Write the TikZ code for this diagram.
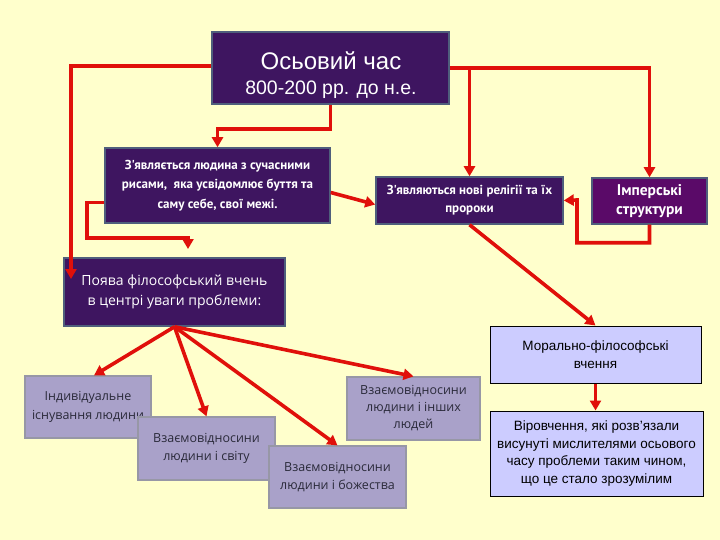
\documentclass[tikz,border=0pt]{standalone}
\usepackage{fontspec}
\setmainfont{Liberation Sans}
\newfontfamily\condfont{PT Sans}
\newfontfamily\lightfont{Open Sans}
\usetikzlibrary{arrows.meta}
\definecolor{bgyellow}{HTML}{FFFFCC}
\definecolor{dkpurple}{HTML}{3E1560}
\definecolor{magpurple}{HTML}{5A0A68}
\definecolor{boxedge}{HTML}{4F5E7C}
\definecolor{grayfill}{HTML}{A9A1C9}
\definecolor{grayedge}{HTML}{9797A6}
\definecolor{lightfill}{HTML}{CCCCFF}
\definecolor{arrowred}{HTML}{E0100A}
\definecolor{graytext}{HTML}{2A2A3A}
\begin{document}
\begin{tikzpicture}[x=1pt,y=-1pt,
  dbox/.style={draw=boxedge, line width=1.5pt, fill=dkpurple, text=white, inner sep=0pt, align=center},
  mbox/.style={dbox, fill=magpurple},
  gbox/.style={draw=grayedge, line width=1.2pt, fill=grayfill, text=graytext, inner sep=0pt, align=center,
    font=\lightfont\fontsize{12.5}{18.5}\selectfont},
  lbox/.style={draw=black, line width=1pt, fill=lightfill, text=black, inner sep=0pt, align=center,
    font=\fontsize{13.5}{17.8}\selectfont},
  condtext/.style={font=\condfont\bfseries\fontsize{13}{19.5}\selectfont},
  toptxt/.style={text=white, inner sep=0pt},
  conn/.style={draw=arrowred, line width=3.6pt, -{Triangle[length=10pt,width=11pt]}}
]
\useasboundingbox (0,0) rectangle (720,540);
\fill[bgyellow] (0,0) rectangle (720,540);

% top box
\node[dbox, minimum width=237pt, minimum height=72pt] (top) at (330.5,68) {};
\node[toptxt, font=\fontsize{24}{28}\selectfont] (toptitle) at (331,61) {Осьовий час};
\node[toptxt, font=\fontsize{19.5}{24}\selectfont] (topdate) at (331,90) {800-200 рр. до н.е.};

% second row
\node[dbox, condtext, minimum width=225pt, minimum height=75pt] (b2) at (217.5,185.5)
  {З'являється людина з сучасними\\рисами,\ \ яка усвідомлює буття та\\саму себе, свої межі.};
\node[dbox, font=\condfont\bfseries\fontsize{13}{18}\selectfont, minimum width=187pt, minimum height=47pt] (b3) at (469.5,200.5)
  {З'являються нові релігії та їх\\пророки};
\node[mbox, font=\condfont\bfseries\fontsize{15.5}{19.5}\selectfont, minimum width=115pt, minimum height=46pt] (b4) at (649.5,201)
  {Імперські\\структури};

% philosophy box
\node[dbox, font=\lightfont\fontsize{14}{20}\selectfont, minimum width=221pt, minimum height=68pt] (b5) at (174.5,292)
  {Поява філософський вчень\\в центрі уваги проблеми:};

% right column
\node[lbox, minimum width=211pt, minimum height=57pt] (b6) at (595.5,354.5)
  {Морально-філософські\\вчення};
\node[lbox, minimum width=213pt, minimum height=85pt] (b7) at (596.5,453.5)
  {Віровчення, які розв'язали\\висунуті мислителями осьового\\часу проблеми таким чином,\\що це стало зрозумілим};

% gray boxes
\node[gbox, minimum width=126pt, minimum height=62pt] (g1) at (88,407)
  {Індивідуальне\\існування людини};
\node[gbox, minimum width=137pt, minimum height=63pt] (g2) at (206.5,448.5)
  {Взаємовідносини\\людини і світу};
\node[gbox, minimum width=137pt, minimum height=62pt] (g3) at (337.5,477)
  {Взаємовідносини\\людини і божества};
\node[gbox, font=\lightfont\fontsize{12.5}{17}\selectfont, minimum width=133pt, minimum height=63pt] (g4) at (413.5,408.5)
  {Взаємовідносини\\людини і інших\\людей};

% connector end points
\coordinate (c1) at (71,279);
\coordinate (c5) at (188,249);
\coordinate (c6) at (577,200);

% connectors
\draw[conn] ([yshift=2pt]top.west) -| (c1);
\draw[conn] (top.south) -- ++(0,24) -| (b2.north);
\draw[conn] (top.east) -| (b4.north);
\draw[conn] (b3.north |- top.east) -- (b3.north);
\draw[conn] ([yshift=-7pt]b2.east) -- ([yshift=-4pt]b3.west);
\draw[conn] ([yshift=-17pt]b2.west) -| (87,238) -| (c5);
\draw[conn] (b4.south) -- ++(0,18) -| (c6) -- (b3.east);
\draw[conn] (b3.south) -- (b6.north);
\draw[conn] (b6.south) -- (b6.south |- b7.north);
\draw[conn] (b5.south) -- ([xshift=6pt]g1.north);
\draw[conn] (b5.south) -- (g2.north);
\draw[conn] (b5.south) -- (g3.north);
\draw[conn] (b5.south) -- (g4.north);
\end{tikzpicture}
\end{document}
